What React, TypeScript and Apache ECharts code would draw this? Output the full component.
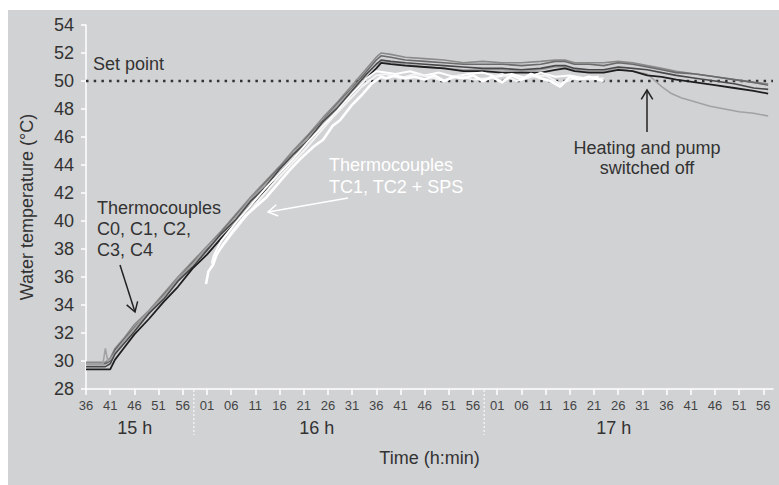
import React, { useEffect, useRef } from 'react';
import * as echarts from 'echarts';

// Minutes since 15:36
const minuteLabels = [
  '36', '41', '46', '51', '56',
  '01', '06', '11', '16', '21', '26', '31', '36', '41', '46', '51', '56',
  '01', '06', '11', '16', '21', '26', '31', '36', '41', '46', '51', '56',
];
const hourLabels = ['15 h', '16 h', '17 h'];
const hourLabelAt = [10.1, 47.7, 109.1];
const hourSeparators = [22.3, 82.3];
const setPoint = 50;

const tC = [0, 4, 5, 6, 8, 10, 13, 16, 19, 22, 25, 28, 31, 34, 37, 40, 43, 46, 49, 52, 55, 58, 60, 61, 63, 66, 70, 74, 78, 82, 86, 90, 94, 97, 99, 101, 104, 107, 110, 113, 116, 119, 122, 126, 130, 134, 138, 141];
const c0 = [29.4, 29.4, 29.4, 30.1, 31.0, 31.9, 33.0, 34.2, 35.3, 36.6, 37.6, 38.8, 39.9, 41.1, 42.2, 43.4, 44.5, 45.7, 46.8, 47.9, 49.1, 50.2, 50.9, 51.3, 51.2, 51.1, 51.0, 50.9, 50.7, 50.7, 50.6, 50.6, 50.6, 50.8, 50.9, 50.7, 50.6, 50.6, 50.8, 50.7, 50.4, 50.3, 50.1, 49.9, 49.7, 49.5, 49.3, 49.1];
const c1 = [29.6, 29.6, 29.8, 30.5, 31.3, 32.1, 33.4, 34.4, 35.7, 36.7, 37.9, 39.1, 40.1, 41.4, 42.4, 43.7, 44.8, 45.8, 47.1, 48.1, 49.3, 50.5, 51.2, 51.5, 51.4, 51.3, 51.2, 51.1, 51.0, 50.9, 50.9, 50.8, 50.9, 51.1, 51.1, 50.9, 50.8, 50.8, 51.0, 50.9, 50.8, 50.6, 50.4, 50.2, 50.0, 49.8, 49.5, 49.4];
const c2 = [29.8, 29.8, 30.0, 30.8, 31.6, 32.4, 33.4, 34.7, 35.8, 37.0, 38.0, 39.2, 40.4, 41.5, 42.7, 43.8, 44.9, 46.1, 47.2, 48.4, 49.5, 50.7, 51.5, 51.8, 51.7, 51.5, 51.4, 51.3, 51.2, 51.2, 51.2, 51.1, 51.2, 51.4, 51.4, 51.2, 51.2, 51.1, 51.3, 51.2, 51.0, 50.8, 50.6, 50.5, 50.3, 50.1, 49.9, 49.7];
const c3 = [29.9, 29.9, 30.2, 30.9, 31.7, 32.6, 33.6, 34.8, 36.0, 37.1, 38.2, 39.3, 40.5, 41.7, 42.8, 43.9, 45.1, 46.2, 47.4, 48.5, 49.7, 50.9, 51.7, 52.0, 51.9, 51.7, 51.6, 51.5, 51.3, 51.4, 51.3, 51.3, 51.4, 51.5, 51.5, 51.3, 51.3, 51.3, 51.4, 51.3, 51.1, 50.9, 50.7, 50.5, 50.3, 50.1, 49.9, 49.8];

const tC4 = [0, 3.5, 4, 4.5, 5, 6, 8, 10, 13, 16, 19, 22, 25, 28, 31, 34, 37, 40, 43, 46, 49, 52, 55, 58, 60, 61, 63, 66, 70, 74, 78, 82, 86, 90, 94, 97, 99, 101, 104, 107, 110, 113, 116, 117, 119, 121, 123, 126, 129, 132, 135, 138, 141];
const c4 = [29.8, 29.8, 30.9, 30.0, 30.1, 30.6, 31.5, 32.3, 33.5, 34.6, 35.8, 36.9, 38.1, 39.1, 40.3, 41.5, 42.6, 43.7, 44.9, 46.0, 47.1, 48.3, 49.4, 50.5, 51.2, 51.4, 51.3, 51.2, 51.0, 50.9, 50.8, 50.8, 50.8, 50.7, 50.8, 51.0, 51.0, 50.8, 50.7, 50.7, 50.9, 50.7, 50.5, 50.2, 49.6, 49.1, 48.8, 48.5, 48.2, 48.0, 47.8, 47.7, 47.5];

const tTC1 = [24.8, 25.3, 26.3, 27, 28.5, 30.4, 33, 35, 37.3, 40, 42, 44.2, 47, 49, 51, 52.5, 55, 57, 59, 61, 62, 64, 66, 68, 70, 72, 74, 76, 78, 80, 82, 84, 86, 88, 90, 92, 94, 96, 98, 100, 102, 104, 106, 107];
const tc1 = [35.5, 36.4, 36.9, 37.6, 38.4, 39.3, 40.4, 41.0, 41.7, 42.8, 43.6, 44.4, 45.3, 45.8, 46.8, 47.2, 48.3, 49.0, 49.8, 50.3, 50.2, 50.4, 50.2, 50.3, 50.1, 50.4, 50.0, 50.3, 50.2, 50.4, 50.0, 50.3, 49.9, 50.4, 50.1, 50.5, 50.2, 50.0, 49.6, 50.3, 50.1, 50.3, 50.1, 50.0];

const tTC2 = [26, 26.5, 28, 31, 34, 37, 40, 43, 46, 49, 52, 55, 58, 60, 62, 64, 67, 70, 73, 76, 79, 82, 85, 88, 91, 94, 97, 100, 103, 106];
const tc2 = [37.0, 37.6, 38.6, 39.9, 41.1, 42.3, 43.4, 44.5, 45.7, 46.8, 47.9, 49.1, 50.2, 50.7, 50.6, 50.5, 50.7, 50.4, 50.6, 50.3, 50.5, 50.6, 50.3, 50.5, 50.2, 50.6, 50.3, 50.4, 50.2, 50.3];

const tSPS = [26, 27.5, 30, 33, 36, 39, 42, 45, 48, 51, 54, 57, 60, 62, 65, 68, 71, 74, 77, 80, 83, 86, 89, 92, 95, 98, 101, 104, 107];
const sps = [36.9, 37.9, 39.0, 40.3, 41.6, 42.8, 43.9, 45.0, 46.2, 47.4, 48.5, 49.6, 50.4, 50.5, 50.2, 50.5, 50.3, 50.0, 50.4, 50.1, 50.2, 50.5, 50.0, 50.3, 50.4, 49.8, 50.2, 50.1, 50.2];

const FONT = '"Liberation Sans", Arial, Helvetica, sans-serif';
const OX = 8;
const OY = 10;

const pairs = (ts: number[], vs: number[]) => ts.map((t, i) => [t, vs[i]]);

function arrow(px1: number, py1: number, px2: number, py2: number, color: string, w: number, head = 11, ang = 0.55) {
  const x1 = px1 - OX, y1 = py1 - OY, x2 = px2 - OX, y2 = py2 - OY;
  const dx = x2 - x1, dy = y2 - y1;
  const L = Math.hypot(dx, dy);
  const bx = -dx / L, by = -dy / L;
  const c = Math.cos(ang), s = Math.sin(ang);
  const p1 = [x2 + head * (bx * c - by * s), y2 + head * (bx * s + by * c)];
  const p2 = [x2 + head * (bx * c + by * s), y2 + head * (-bx * s + by * c)];
  return [
    { type: 'line', shape: { x1, y1, x2, y2 }, style: { stroke: color, lineWidth: w }, z: 100 },
    { type: 'polyline', shape: { points: [p1, [x2, y2], p2] }, style: { stroke: color, lineWidth: w, fill: null }, z: 100 },
  ];
}

function lineSeries(name: string, data: number[][], color: string, width: number) {
  return {
    name,
    type: 'line',
    data,
    symbol: 'none',
    lineStyle: { color, width },
    emphasis: { disabled: true },
  };
}

export default function App() {
  const ref = useRef<HTMLDivElement>(null);
  useEffect(() => {
    if (!ref.current) return;
    const chart = echarts.init(ref.current, null, { renderer: 'svg' });
    const tickVals = minuteLabels.map((_, i) => i * 5);
    chart.setOption({
      animation: false,
      backgroundColor: '#d1d2d4',
      textStyle: { fontFamily: FONT },
      grid: { left: 78, top: 15, width: 687, height: 364 },
      xAxis: {
        type: 'value',
        min: 0,
        max: 142,
        axisLine: { lineStyle: { color: '#ffffff', width: 1.5 } },
        axisTick: { customValues: tickVals, length: 6, lineStyle: { color: '#ffffff', width: 1.5 } },
        axisLabel: {
          customValues: tickVals,
          formatter: (v: number) => minuteLabels[Math.round(v / 5)] ?? '',
          fontSize: 13,
          color: '#444',
          margin: 10,
          fontFamily: FONT,
        },
        splitLine: { show: false },
        name: 'Time (h:min)',
        nameLocation: 'middle',
        nameGap: 60,
        nameTextStyle: { fontSize: 18, color: '#333', fontFamily: FONT },
      },
      yAxis: {
        type: 'value',
        min: 28,
        max: 54,
        interval: 2,
        axisLine: { show: true, lineStyle: { color: '#ffffff', width: 1.5 } },
        axisTick: { show: true, length: 5, lineStyle: { color: '#ffffff', width: 1.5 } },
        axisLabel: { fontSize: 18, color: '#333', margin: 12, fontFamily: FONT },
        splitLine: { show: false },
        name: 'Water temperature (°C)',
        nameLocation: 'middle',
        nameGap: 50,
        nameTextStyle: { fontSize: 18, color: '#333', fontFamily: FONT },
      },
      series: [
        {
          name: 'Set point',
          type: 'line',
          data: [[0, setPoint], [142, setPoint]],
          symbol: 'none',
          lineStyle: { color: '#333', width: 2.5, type: [2.5, 5.2] },
          emphasis: { disabled: true },
          z: 1,
        },
        lineSeries('C3', pairs(tC, c3), '#8a8a8a', 1.6),
        lineSeries('C2', pairs(tC, c2), '#6a6a6a', 1.6),
        lineSeries('C4', pairs(tC4, c4), '#a2a2a2', 1.6),
        lineSeries('C1', pairs(tC, c1), '#484848', 1.6),
        lineSeries('C0', pairs(tC, c0), '#1e1e1e', 1.8),
        lineSeries('TC2', pairs(tTC2, tc2), '#ffffff', 2),
        lineSeries('SPS', pairs(tSPS, sps), '#f4f4f4', 2),
        lineSeries('TC1', pairs(tTC1, tc1), '#ffffff', 2.6),
      ],
    });

    const gridBottom = chart.convertToPixel({ yAxisIndex: 0 }, 28) as number;
    const graphic: any[] = [];
    hourSeparators.forEach((t) => {
      const x = chart.convertToPixel({ xAxisIndex: 0 }, t) as number;
      graphic.push({
        type: 'line',
        shape: { x1: x, y1: gridBottom + 1, x2: x, y2: gridBottom + 46 },
        style: { stroke: '#ffffff', lineWidth: 1, lineDash: [2, 2] },
      });
    });
    hourLabels.forEach((h, i) => {
      const x = chart.convertToPixel({ xAxisIndex: 0 }, hourLabelAt[i]) as number;
      graphic.push({
        type: 'text',
        x,
        y: 418,
        style: { text: h, fill: '#333', fontSize: 18, fontFamily: FONT, align: 'center', verticalAlign: 'middle' },
      });
    });
    graphic.push(
      {
        type: 'text', x: 93 - OX, y: 64 - OY,
        style: { text: 'Set point', fill: '#333', fontSize: 18, fontFamily: FONT, align: 'left', verticalAlign: 'middle' },
      },
      {
        type: 'text', x: 97 - OX, y: 197 - OY,
        style: { text: 'Thermocouples\nC0, C1, C2,\nC3, C4', fill: '#333', fontSize: 18, lineHeight: 21, fontFamily: FONT, align: 'left', verticalAlign: 'top' },
      },
      {
        type: 'text', x: 329 - OX, y: 154 - OY,
        style: { text: 'Thermocouples\nTC1, TC2 + SPS', fill: '#ffffff', fontSize: 18, lineHeight: 22, fontFamily: FONT, align: 'left', verticalAlign: 'top' },
      },
      {
        type: 'text', x: 647 - OX, y: 138 - OY,
        style: { text: 'Heating and pump\nswitched off', fill: '#333', fontSize: 18, lineHeight: 20, fontFamily: FONT, align: 'center', verticalAlign: 'top' },
      },
      ...arrow(120, 265, 135, 312, '#222', 1.5),
      ...arrow(348, 198, 268, 212, '#ffffff', 1.5),
      ...arrow(647, 132, 647, 90, '#222', 1.5),
    );
    chart.setOption({ graphic });
    return () => chart.dispose();
  }, []);
  return (
    <div
      ref={ref}
      style={{ position: 'absolute', left: 8, top: 10, width: 771, height: 475 }}
    />
  );
}
